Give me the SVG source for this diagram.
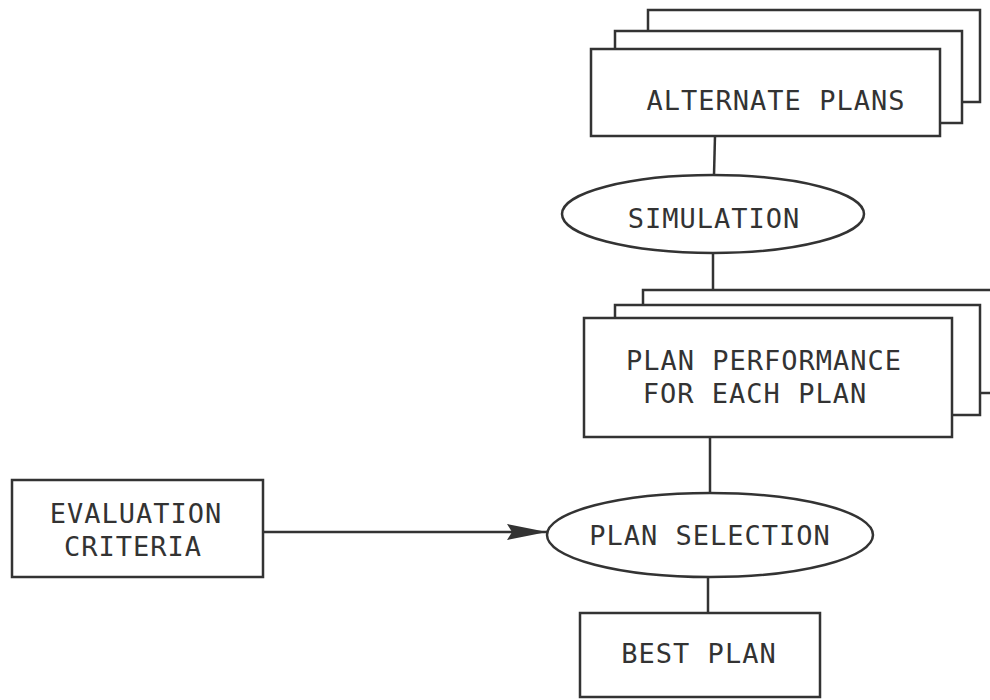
<svg xmlns="http://www.w3.org/2000/svg" width="990" height="700" viewBox="0 0 990 700">
  <style>
    .shape { fill: #ffffff; stroke: #333333; stroke-width: 2.5; }
    .conn { fill: none; stroke: #333333; stroke-width: 2.5; }
    .lbl { font-family: "DejaVu Sans Mono", "Liberation Mono", monospace; font-size: 27px; letter-spacing: 1px; fill: #333333; text-anchor: middle; }
  </style>
  <defs>
    <marker id="arrow" markerUnits="userSpaceOnUse" markerWidth="44" markerHeight="20" refX="40" refY="8" orient="auto">
      <path d="M0,0 L40,8 L0,16 L5,8 Z" fill="#333333"/>
    </marker>
  </defs>
  <rect width="990" height="700" fill="#ffffff"/>

  <g id="connectors">
    <line class="conn" x1="715" y1="136" x2="714" y2="175"/>
    <line class="conn" x1="713" y1="253" x2="713" y2="290"/>
    <line class="conn" x1="710" y1="437" x2="710" y2="493"/>
    <line class="conn" x1="708" y1="577" x2="708" y2="613"/>
    <line class="conn" x1="263" y1="532" x2="547" y2="532" marker-end="url(#arrow)"/>
  </g>

  <g id="alternate-plans">
    <rect class="shape" x="648" y="10" width="332" height="92"/>
    <rect class="shape" x="615" y="31" width="347" height="92"/>
    <rect class="shape" x="591" y="49" width="349" height="87"/>
    <text class="lbl" x="776" y="110">ALTERNATE PLANS</text>
  </g>

  <g id="simulation">
    <ellipse class="shape" cx="713" cy="214" rx="151" ry="39"/>
    <text class="lbl" x="714" y="228">SIMULATION</text>
  </g>

  <g id="plan-performance">
    <rect class="shape" x="643" y="290" width="360" height="103"/>
    <rect class="shape" x="615" y="305" width="365" height="110"/>
    <rect class="shape" x="584" y="318" width="368" height="119"/>
    <text class="lbl" x="764" y="370">PLAN PERFORMANCE</text>
    <text class="lbl" x="755" y="403">FOR EACH PLAN</text>
  </g>

  <g id="evaluation-criteria">
    <rect class="shape" x="12" y="480" width="251" height="97"/>
    <text class="lbl" x="136" y="523">EVALUATION</text>
    <text class="lbl" x="133" y="556">CRITERIA</text>
  </g>

  <g id="plan-selection">
    <ellipse class="shape" cx="710" cy="535" rx="163" ry="42"/>
    <text class="lbl" x="710" y="545">PLAN SELECTION</text>
  </g>

  <g id="best-plan">
    <rect class="shape" x="580" y="613" width="240" height="84"/>
    <text class="lbl" x="699" y="663">BEST PLAN</text>
  </g>
</svg>
